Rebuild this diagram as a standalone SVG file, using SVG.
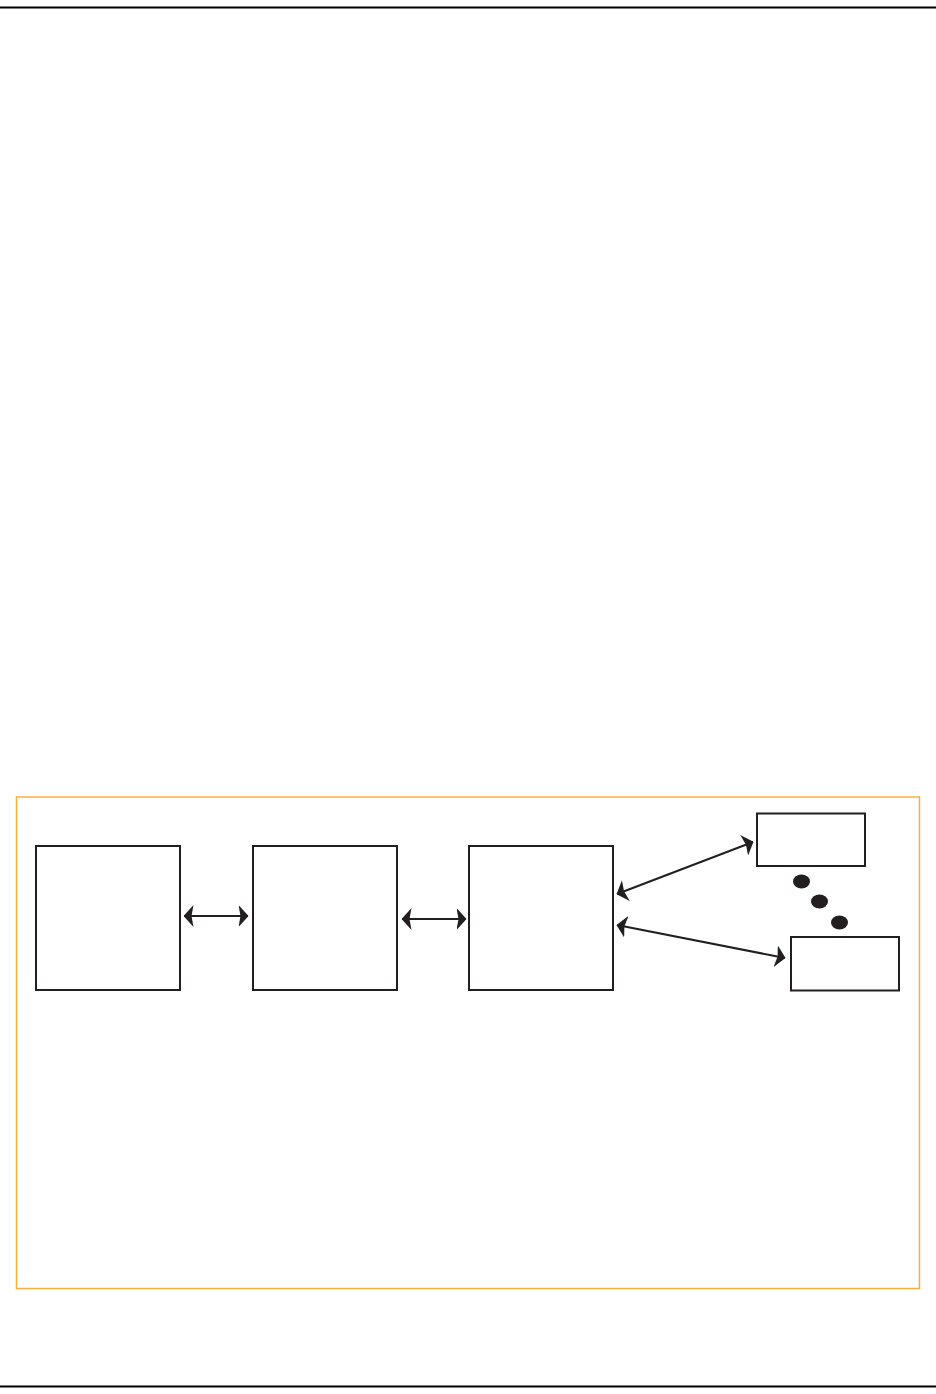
<svg xmlns="http://www.w3.org/2000/svg" width="936" height="1394" viewBox="0 0 936 1394">
<style>
.box{fill:#fff;stroke:#231f20;stroke-width:2}
.conn{stroke:#231f20;stroke-width:2;fill:none;marker-start:url(#ah);marker-end:url(#ah)}
.dot{fill:#231f20}
</style>
<defs>
<marker id="ah" viewBox="0 0 10 22" refX="9.5" refY="11" markerWidth="10" markerHeight="22" markerUnits="userSpaceOnUse" orient="auto-start-reverse">
<path d="M0,0 L10,11 L0,22 L2,11 z" fill="#231f20"/>
</marker>
</defs>
<rect width="936" height="1394" fill="#fff"/>
<line x1="0" y1="7.5" x2="936" y2="7.5" stroke="#000" stroke-width="2.2"/>
<line x1="0" y1="1386.5" x2="936" y2="1386.5" stroke="#000" stroke-width="2.2"/>
<rect x="16.5" y="797" width="903" height="491.5" fill="none" stroke="#f9ad3f" stroke-width="1.5"/>
<g id="node1"><rect class="box" x="36" y="846" width="144" height="144"/></g>
<g id="node2"><rect class="box" x="253" y="846" width="144" height="144"/></g>
<g id="node3"><rect class="box" x="469" y="846" width="144" height="144"/></g>
<g id="node4"><rect class="box" x="757" y="813.5" width="108" height="52.5"/></g>
<g id="node5"><rect class="box" x="791" y="937" width="108" height="53.5"/></g>
<g id="dots">
<ellipse class="dot" cx="801.5" cy="881.5" rx="8.5" ry="7"/>
<ellipse class="dot" cx="819.5" cy="901.5" rx="8.5" ry="7"/>
<ellipse class="dot" cx="839.5" cy="922.5" rx="8.5" ry="7"/>
</g>
<g id="connectors">
<line class="conn" x1="184" y1="916" x2="248" y2="916"/>
<line class="conn" x1="402" y1="919" x2="466" y2="919"/>
<line class="conn" x1="617" y1="894" x2="753" y2="842"/>
<line class="conn" x1="617" y1="925" x2="785" y2="958"/>
</g>
</svg>
